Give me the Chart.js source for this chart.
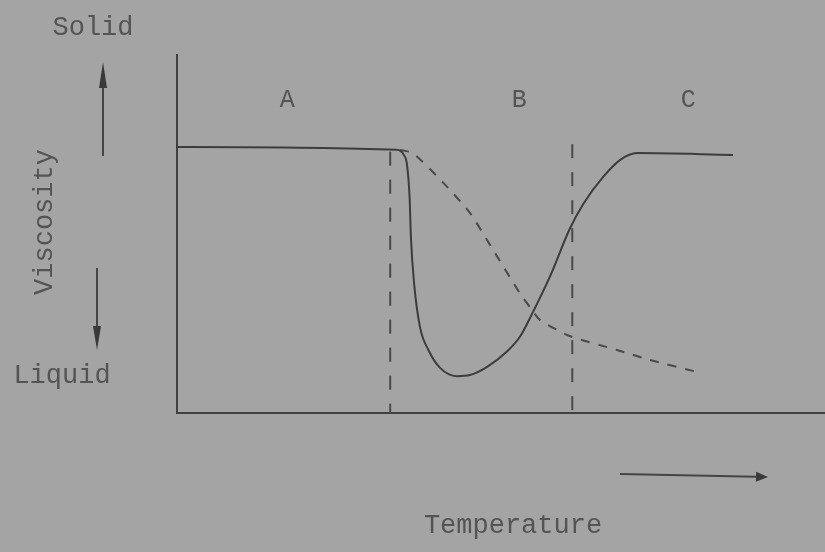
<!DOCTYPE html>
<html>
<head>
<meta charset="utf-8">
<script src="https://cdn.jsdelivr.net/npm/chart.js@4/dist/chart.umd.min.js"></script>
<style>
html,body{margin:0;padding:0;background:#a3a3a3;}
#wrap{width:825px;height:552px;position:relative;}
</style>
</head>
<body>
<div id="wrap"><canvas id="c" width="825" height="552"></canvas></div>
<script>
// Schematic: viscosity vs temperature (arbitrary units 0-100)
const solidTemp = [0, 33.9, 35.0, 35.5, 35.9, 36.1, 36.6, 37.5, 38.8, 40.6, 43.2, 45.2, 47.8, 51.0, 53.0, 54.6, 57.6, 60.6, 62.7, 65.8, 68.4, 71.0, 85.8];
const solidVisc = [74.3, 73.5, 72.1, 69.3, 60.0, 49.0, 36.0, 24.0, 17.6, 12.6, 10.3, 10.6, 12.8, 17.3, 21.5, 27.0, 38.3, 51.4, 58.4, 66.0, 70.7, 72.6, 72.1];
const dashTemp = [34.4, 36.4, 41.0, 45.2, 48.8, 52.9, 54.5, 56.0, 60.6, 67.9, 73.0, 80.2];
const dashVisc = [73.5, 72.6, 64.5, 55.9, 45.5, 33.5, 29.5, 26.0, 21.5, 17.6, 14.8, 11.5];
const boundary1Temp = [32.9, 32.9];
const boundary1Visc = [73.0, 0];
const boundary2Temp = [61.0, 61.0];
const boundary2Visc = [75.1, 0];
const regionLabels = ['A', 'B', 'C'];
const regionTemp = [17.0, 52.8, 78.9];
const regionVisc = [87.4, 87.4, 87.4];
const yTop = 'Solid', yBottom = 'Liquid', yTitle = 'Viscosity', xTitle = 'Temperature';

const pts = (xs, ys) => xs.map((x, i) => ({x: x, y: ys[i]}));
const ink = '#3c3c3c';
const textInk = '#545454';

const bgPlugin = {
  id: 'bg',
  beforeDraw(chart) {
    const ctx = chart.ctx;
    ctx.save();
    ctx.fillStyle = '#a4a4a4';
    ctx.fillRect(0, 0, chart.width, chart.height);
    ctx.restore();
  }
};

function arrow(ctx, x1, y1, x2, y2, headLen, headW) {
  const ang = Math.atan2(y2 - y1, x2 - x1);
  const bx = x2 - headLen * Math.cos(ang), by = y2 - headLen * Math.sin(ang);
  ctx.beginPath();
  ctx.moveTo(x1, y1);
  ctx.lineTo(bx, by);
  ctx.stroke();
  ctx.beginPath();
  ctx.moveTo(x2, y2);
  ctx.lineTo(bx + headW * Math.sin(ang), by - headW * Math.cos(ang));
  ctx.lineTo(bx - headW * Math.sin(ang), by + headW * Math.cos(ang));
  ctx.closePath();
  ctx.fill();
}

const labelPlugin = {
  id: 'labels',
  afterDraw(chart) {
    const ctx = chart.ctx;
    const xs = chart.scales.x, ys = chart.scales.y;
    ctx.save();
    ctx.fillStyle = textInk;
    ctx.textAlign = 'center';
    ctx.textBaseline = 'middle';
    // region labels
    ctx.font = '25px "Liberation Mono", monospace';
    regionLabels.forEach((t, i) => {
      ctx.fillText(t, xs.getPixelForValue(regionTemp[i]), ys.getPixelForValue(regionVisc[i]));
    });
    // axis end labels
    ctx.font = '27px "Liberation Mono", monospace';
    ctx.fillText(yTop, 93, 28);
    ctx.fillText(yBottom, 62, 376);
    ctx.fillText(xTitle, 513, 526);
    // rotated y title
    ctx.save();
    ctx.translate(45, 222);
    ctx.rotate(-Math.PI / 2);
    ctx.fillText(yTitle, 0, 0);
    ctx.restore();
    // arrows
    ctx.strokeStyle = '#454545';
    ctx.fillStyle = '#3a3a3a';
    ctx.lineWidth = 2;
    arrow(ctx, 103, 156, 103, 62, 26, 4);
    arrow(ctx, 97, 268, 97, 350, 24, 4);
    arrow(ctx, 620, 474, 768, 477, 12, 5);
    ctx.restore();
  }
};

new Chart(document.getElementById('c'), {
  type: 'scatter',
  data: {
    datasets: [
      {data: pts(solidTemp, solidVisc), showLine: true, borderColor: ink, borderWidth: 2,
       pointRadius: 0, cubicInterpolationMode: 'monotone', fill: false},
      {data: pts(dashTemp, dashVisc), showLine: true, borderColor: '#4a4a4a', borderWidth: 2,
       borderDash: [9, 9], pointRadius: 0, tension: 0.2, fill: false},
      {data: pts(boundary1Temp, boundary1Visc), showLine: true, borderColor: '#4a4a4a', borderWidth: 2,
       borderDash: [14, 14], pointRadius: 0},
      {data: pts(boundary2Temp, boundary2Visc), showLine: true, borderColor: '#4a4a4a', borderWidth: 2,
       borderDash: [14, 14], pointRadius: 0}
    ]
  },
  options: {
    responsive: false,
    animation: false,
    layout: {padding: {left: 177, top: 55, right: 0, bottom: 139}},
    plugins: {legend: {display: false}, tooltip: {enabled: false}},
    scales: {
      x: {type: 'linear', min: 0, max: 100,
          grid: {display: false, drawTicks: false},
          border: {display: true, color: '#404040', width: 2},
          ticks: {display: false}},
      y: {type: 'linear', min: 0, max: 100,
          grid: {display: false, drawTicks: false},
          border: {display: true, color: '#404040', width: 2},
          ticks: {display: false}}
    }
  },
  plugins: [bgPlugin, labelPlugin]
});
</script>
</body>
</html>
